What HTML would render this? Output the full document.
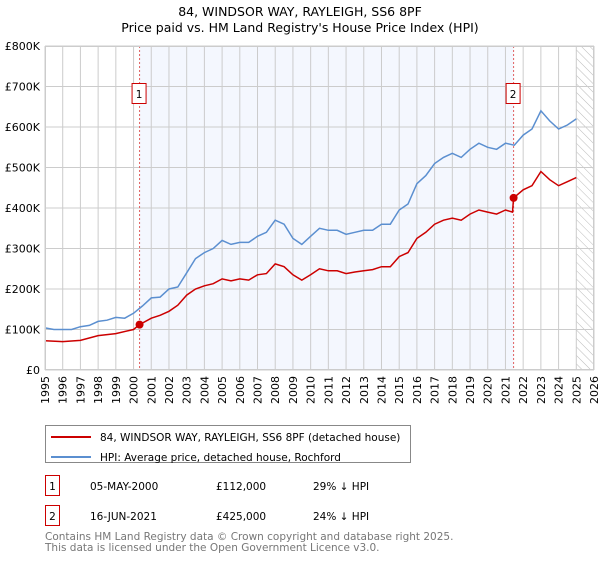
<!DOCTYPE html>
<html><head><meta charset="utf-8"><style>
body{margin:0;background:#fff;font-family:"DejaVu Sans","Liberation Sans",sans-serif;}
svg text{font-family:"DejaVu Sans","Liberation Sans",sans-serif;}
</style></head><body>
<svg id="chart" width="600" height="560" xmlns="http://www.w3.org/2000/svg">
<defs><pattern id="hatch" width="6" height="6" patternUnits="userSpaceOnUse" patternTransform="rotate(-45)"><line x1="0" y1="0" x2="0" y2="6" stroke="#bbb" stroke-width="1"/></pattern></defs>
<text x="300" y="16" text-anchor="middle" font-size="12.5">84, WINDSOR WAY, RAYLEIGH, SS6 8PF</text>
<text x="300" y="32" text-anchor="middle" font-size="12.5">Price paid vs. HM Land Registry's House Price Index (HPI)</text>
<g id="plot"></g>
<g>
<rect x="45.5" y="425.5" width="365" height="37" fill="#fff" stroke="#888"/>
<line x1="51" y1="437" x2="91" y2="437" stroke="#cc0000" stroke-width="2"/>
<text x="100" y="441" font-size="10.5">84, WINDSOR WAY, RAYLEIGH, SS6 8PF (detached house)</text>
<line x1="51" y1="457" x2="91" y2="457" stroke="#5b8fd0" stroke-width="2"/>
<text x="100" y="461" font-size="10.5">HPI: Average price, detached house, Rochford</text>
</g>
<g>
<rect x="45.5" y="475.5" width="14" height="20" fill="#fff" stroke="#cc0000"/>
<text x="52.5" y="490" text-anchor="middle" font-size="10.5">1</text>
<text x="90" y="490" font-size="10.5">05-MAY-2000</text><text x="216" y="490" font-size="10.5">£112,000</text><text x="313" y="490" font-size="10.5">29% ↓ HPI</text>
<rect x="45.5" y="505.5" width="14" height="20" fill="#fff" stroke="#cc0000"/>
<text x="52.5" y="520" text-anchor="middle" font-size="10.5">2</text>
<text x="90" y="520" font-size="10.5">16-JUN-2021</text><text x="216" y="520" font-size="10.5">£425,000</text><text x="313" y="520" font-size="10.5">24% ↓ HPI</text>
</g>
<text x="45" y="540" font-size="10.5" fill="#777">Contains HM Land Registry data © Crown copyright and database right 2025.</text>
<text x="45" y="551" font-size="10.5" fill="#777">This data is licensed under the Open Government Licence v3.0.</text>
</svg>
<script>
const hpiYears=[1995,1995.5,1996,1996.5,1997,1997.5,1998,1998.5,1999,1999.5,2000,2000.5,2001,2001.5,2002,2002.5,2003,2003.5,2004,2004.5,2005,2005.5,2006,2006.5,2007,2007.5,2008,2008.5,2009,2009.5,2010,2010.5,2011,2011.5,2012,2012.5,2013,2013.5,2014,2014.5,2015,2015.5,2016,2016.5,2017,2017.5,2018,2018.5,2019,2019.5,2020,2020.5,2021,2021.5,2022,2022.5,2023,2023.5,2024,2024.5,2025];
const hpiValues=[104,100,100,100,107,110,120,123,130,128,140,158,178,180,200,205,240,275,290,300,320,310,315,315,330,340,370,360,325,310,330,350,345,345,335,340,345,345,360,360,395,410,460,480,510,525,535,525,545,560,550,545,560,555,580,595,640,615,595,605,620];
const priceYears=[1995,1996,1997,1998,1999,2000,2000.34,2001,2001.5,2002,2002.5,2003,2003.5,2004,2004.5,2005,2005.5,2006,2006.5,2007,2007.5,2008,2008.5,2009,2009.5,2010,2010.5,2011,2011.5,2012,2012.5,2013,2013.5,2014,2014.5,2015,2015.5,2016,2016.5,2017,2017.5,2018,2018.5,2019,2019.5,2020,2020.5,2021,2021.4,2021.46,2022,2022.5,2023,2023.5,2024,2024.5,2025];
const priceValues=[72,70,73,85,90,100,112,128,135,145,160,185,200,208,213,225,220,225,222,235,238,262,255,235,222,235,250,245,245,238,242,245,248,255,255,280,290,325,340,360,370,375,370,385,395,390,385,395,390,425,445,455,490,470,455,465,475];
const saleYears=[2000.34,2021.46];
const saleValues=[112,425];
const saleLabels=["1","2"];
const yTicks=[0,100,200,300,400,500,600,700,800];
const yTickLabels=["£0","£100K","£200K","£300K","£400K","£500K","£600K","£700K","£800K"];
const xTicks=[1995,1996,1997,1998,1999,2000,2001,2002,2003,2004,2005,2006,2007,2008,2009,2010,2011,2012,2013,2014,2015,2016,2017,2018,2019,2020,2021,2022,2023,2024,2025,2026];

const NS="http://www.w3.org/2000/svg";
const X0=45,X1=594,Y0=370,Y1=46;
const xs=y=>X0+(y-1995)/(2026-1995)*(X1-X0);
const ys=v=>Y0-v/800*(Y0-Y1);
const g=document.getElementById('plot');
function mk(t,a){const e=document.createElementNS(NS,t);for(const k in a)e.setAttribute(k,a[k]);g.appendChild(e);return e;}
let e;
e=mk('rect',{x:X0,y:Y1,width:X1-X0,height:Y0-Y1,fill:'#fff'});


e=mk('rect',{x:xs(saleYears[0]),y:Y1,width:xs(saleYears[1])-xs(saleYears[0]),height:Y0-Y1,fill:'#f4f7fe'});


e=mk('rect',{x:xs(2025),y:Y1,width:X1-xs(2025),height:Y0-Y1,fill:'url(#hatch)'});


xTicks.forEach(t=>{
 e=mk('line',{x1:xs(t),x2:xs(t),y1:Y1,y2:Y0,stroke:'#ccc','stroke-width':1});
 
 
 const tx=mk('text',{x:0,y:0,'font-size':11,'text-anchor':'end',transform:`translate(${xs(t)+4},${Y0+6}) rotate(-90)`});
 tx.textContent=t;
 
 
});
yTicks.forEach((t,i)=>{
 e=mk('line',{x1:X0,x2:X1,y1:ys(t),y2:ys(t),stroke:'#ccc','stroke-width':1});
 
 
 const tx=mk('text',{x:40,y:ys(t)+4,'font-size':11,'text-anchor':'end'});
 tx.textContent=yTickLabels[i];
 
 
});
saleYears.forEach(s=>{
 e=mk('line',{x1:xs(s),x2:xs(s),y1:Y1,y2:Y0,stroke:'#e06060','stroke-width':1,'stroke-dasharray':'2,2'});
 
 
});
function path(xa,va,col,name){
 const d=xa.map((x,i)=>(i?'L':'M')+xs(x).toFixed(1)+','+ys(va[i]).toFixed(1)).join('');
 e=mk('path',{d,fill:'none',stroke:col,'stroke-width':1.5});
 
 
}
path(hpiYears,hpiValues,'#5b8fd0','hpi-line');
path(priceYears,priceValues,'#cc0000','price-line');
saleYears.forEach((s,i)=>{
 e=mk('circle',{cx:xs(s),cy:ys(saleValues[i]),r:4,fill:'#cc0000'});
 
 
 e=mk('rect',{x:xs(s)-7.5,y:83.5,width:14,height:20,fill:'#fff',stroke:'#cc0000'});
 
 
 const tx=mk('text',{x:xs(s)-0.5,y:98,'font-size':10.5,'text-anchor':'middle'});
 tx.textContent=saleLabels[i];
 
 
});
e=mk('rect',{x:X0+0.5,y:Y1+0.5,width:X1-X0-1,height:Y0-Y1-1,fill:'none',stroke:'#ccc'});


</script>
</body></html>
